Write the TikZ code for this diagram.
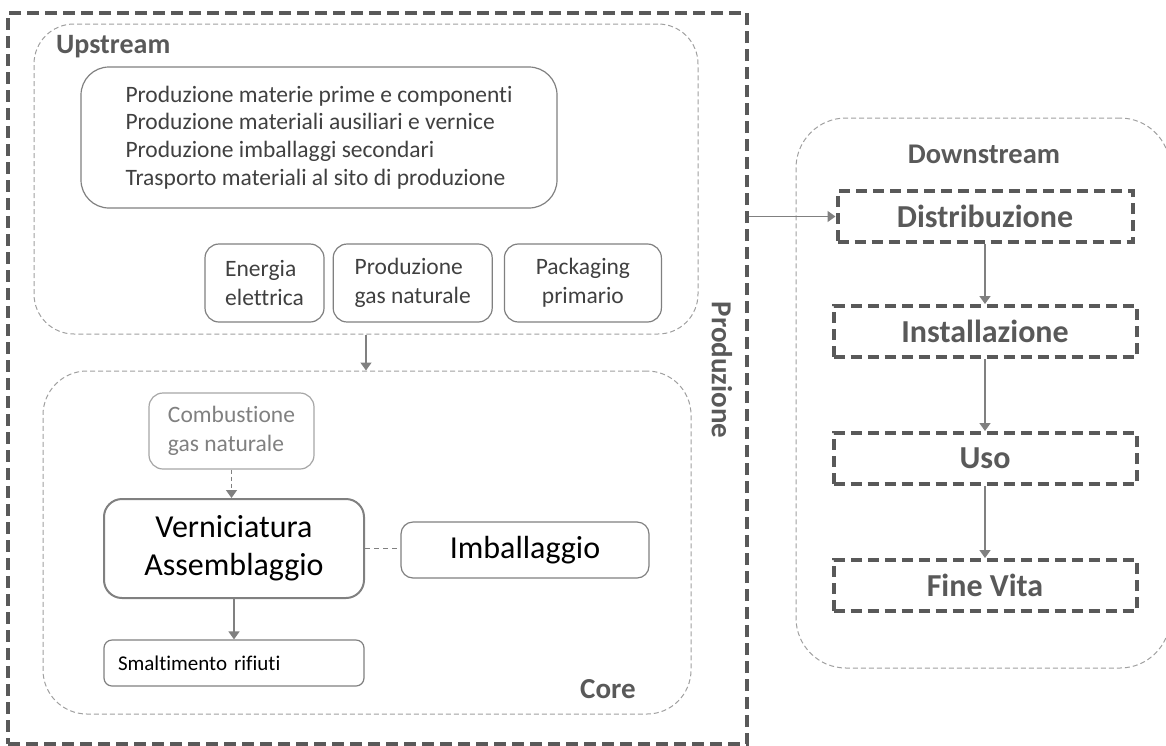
\documentclass[tikz,border=0pt]{standalone}
\usepackage{fontspec}
\setmainfont{Carlito}[Ligatures=NoCommon]
\usetikzlibrary{positioning,arrows.meta}
\definecolor{labelgray}{HTML}{595959}
\definecolor{zonegray}{HTML}{A0A0A0}
\definecolor{linegray}{HTML}{808080}
\definecolor{textgray}{HTML}{404040}
\definecolor{softgray}{HTML}{A6A6A6}
\tikzset{
zone/.style={draw=zonegray, line width=1pt, dash pattern=on 5pt off 3pt, rounded corners=40pt, inner sep=0pt}, % dashed phase boundaries
stage/.style={draw=labelgray, line width=4pt, dash pattern=on 11pt off 6pt, minimum width=303pt, minimum height=51pt, text=labelgray, font=\fontsize{32}{38}\selectfont\bfseries},
tag/.style={text=labelgray, font=\fontsize{28}{32}\selectfont\bfseries, inner sep=0pt},
item/.style={draw=linegray, line width=1.2pt, rounded corners=14pt, text=textgray, font=\fontsize{23.5}{29}\selectfont},
flow/.style={draw=linegray, line width=1.5pt, -{Triangle[width=11pt,length=8pt]}},
}

\begin{document}
\begin{tikzpicture}[x=1pt,y=-1pt]
   \useasboundingbox (0,0) rectangle (1166,745);
   % produzione
   \node[draw=labelgray, line width=4pt, dash pattern=on 12pt off 6pt, minimum width=739pt, minimum height=731pt] (prod) at (377.5,378.5) {};
   \node[tag, rotate=-90, font=\fontsize{29}{32}\selectfont\bfseries] (prodlabel) at (722,370) {Produzione};
   % upstream
   \node[zone, minimum width=664pt, minimum height=310pt] (up) at (366,179) {};
   \node[tag, anchor=base west] (uplabel) at (56,53) {Upstream};
   \node[item, rounded corners=28pt, minimum width=476pt, minimum height=141pt, align=left, font=\fontsize{23.5}{27.7}\selectfont] (inputs) at (319,137.5) {Produzione materie prime e componenti\\Produzione materiali ausiliari e vernice\\Produzione imballaggi secondari\\Trasporto materiali al sito di produzione};
   \node[item, minimum width=119pt, minimum height=78pt, align=left] (energia) at (264.5,283) {Energia\\elettrica};
   \node[item, minimum width=159pt, minimum height=78pt, align=left, right=8pt of energia] (gas) {Produzione\\gas naturale};
   \node[item, minimum width=157pt, minimum height=78pt, align=center, right=11pt of gas] (pack) {Packaging\\primario};
   % core
   \node[zone, rounded corners=44pt, minimum width=648pt, minimum height=343pt] (core) at (367,542.5) {};
   \node[tag, anchor=base west, font=\fontsize{29}{32}\selectfont\bfseries] (corelabel) at (580,698) {Core};
   \node[item, draw=softgray, text=linegray, minimum width=165pt, minimum height=76pt, align=left] (comb) at (231.5,431) {Combustione\\gas naturale};
   \node[item, line width=2pt, rounded corners=18pt, text=black, font=\fontsize{32}{38}\selectfont, minimum width=260pt, minimum height=99pt, align=center] (vern) at (234,548.5) {Verniciatura\\Assemblaggio};
   \node[item, rounded corners=12pt, text=black, font=\fontsize{32}{38}\selectfont, minimum width=248pt, minimum height=56pt] (imb) at (525,550) {Imballaggio};
   \node[item, rounded corners=8pt, text=black, font=\fontsize{21}{26}\selectfont, text width=232pt, inner xsep=14pt, minimum height=46pt, align=left] (smalt) at (234,663) {Smaltimento rifiuti};
   % downstream
   \node[zone, rounded corners=50pt, minimum width=374pt, minimum height=550pt] (down) at (983,393) {};
   \node[tag, anchor=base, font=\fontsize{28.5}{32}\selectfont\bfseries] (downlabel) at (984,163) {Downstream};
   \node[stage, minimum width=295pt] (distr) at (985,216.5) {Distribuzione};
   \node[stage, below=60pt of distr] (inst) {Installazione};
   \node[stage, below=72pt of inst] (uso) {Uso};
   \node[stage, below=72pt of uso] (fine) {Fine Vita};
   % connectors
   \draw[flow] (up.south) -- (up.south |- core.north);
   \draw[flow, dash pattern=on 4pt off 3pt] (comb) -- (comb |- vern.north);
   \draw[linegray, line width=1.2pt, dash pattern=on 5pt off 4pt] (vern.east) -- (vern.east -| imb.west);
   \draw[flow] (vern) -- (vern |- smalt.north);
   \draw[flow] (prod.east |- distr) -- (distr);
   \draw[flow] (distr) -- (inst);
   \draw[flow] (inst) -- (uso);
   \draw[flow] (uso) -- (fine);
\end{tikzpicture}
\end{document}
